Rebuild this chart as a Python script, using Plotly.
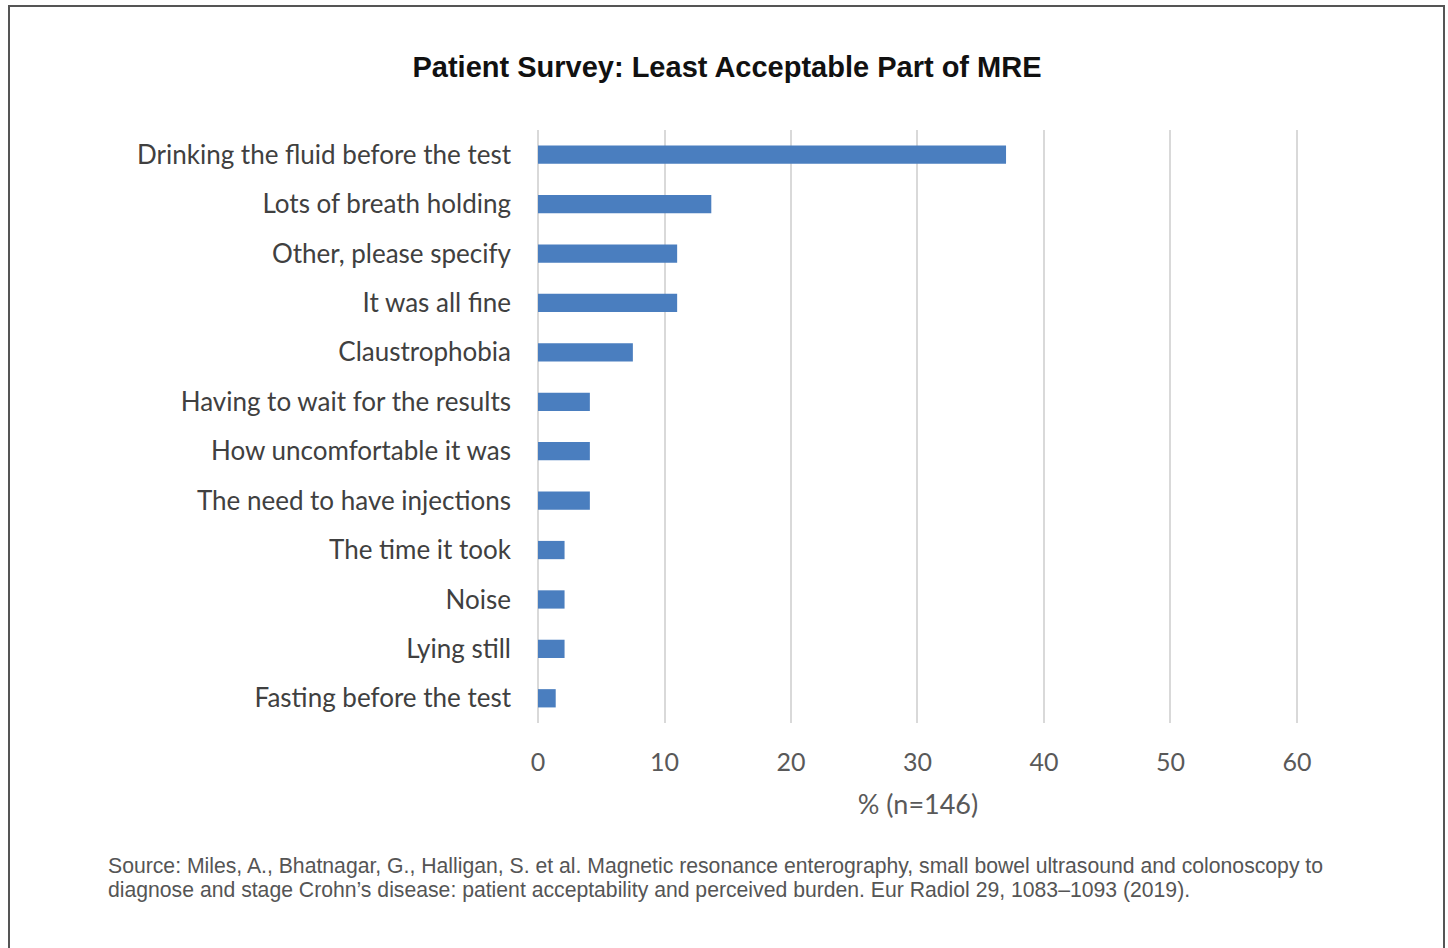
import plotly.graph_objects as go

categories = [
    "Drinking the fluid before the test",
    "Lots of breath holding",
    "Other, please specify",
    "It was all fine",
    "Claustrophobia",
    "Having to wait for the results",
    "How uncomfortable it was",
    "The need to have injections",
    "The time it took",
    "Noise",
    "Lying still",
    "Fasting before the test",
]
values = [37.0, 13.7, 11.0, 11.0, 7.5, 4.1, 4.1, 4.1, 2.1, 2.1, 2.1, 1.4]
x_ticks = [0, 10, 20, 30, 40, 50, 60]
source_lines = [
    "Source: Miles, A., Bhatnagar, G., Halligan, S. et al. Magnetic resonance enterography, small bowel ultrasound and colonoscopy to",
    "diagnose and stage Crohn’s disease: patient acceptability and perceived burden. Eur Radiol 29, 1083–1093 (2019).",
]

W, H = 1448, 948
L, R, T, B = 538, 1298, 130, 723

fig = go.Figure(go.Bar(
    x=values, y=categories, orientation="h",
    marker=dict(color="#4A7EBF", line=dict(width=0)),
    width=0.37,
))

def px2x(px):
    return (px - L) / (R - L)

def py2y(py):
    return (B - py) / (B - T)

annotations = []
for i, line in enumerate(source_lines):
    annotations.append(dict(
        text=line, xref="paper", yref="paper", x=px2x(106), y=py2y(866 + 24 * i),
        xanchor="left", yanchor="middle", align="left", showarrow=False,
        font=dict(family="Liberation Sans, Arial", size=21.2, color="#555555"),
    ))

fig.update_layout(
    width=W, height=H,
    margin=dict(l=L, r=W - R, t=T, b=H - B),
    paper_bgcolor="white", plot_bgcolor="white",
    showlegend=False,
    title=dict(
        text="<b>Patient Survey: Least Acceptable Part of MRE</b>",
        x=727 / W, xanchor="center", y=1 - 67 / H, yanchor="middle",
        font=dict(family="Liberation Sans, Arial", size=29, color="#111111"),
    ),
    xaxis=dict(
        range=[0, 60.08], tickvals=x_ticks, showgrid=True,
        gridcolor="#D9D9D9", gridwidth=2, zeroline=True, zerolinecolor="#D9D9D9",
        zerolinewidth=2, showline=False, ticks="",
        tickfont=dict(family="Lato, Open Sans", size=25, color="#595959"),
        ticklabelstandoff=22,
        title=dict(text="% (n=146)", standoff=20,
                   font=dict(family="Lato, Open Sans", size=27, color="#595959")),
        fixedrange=True,
    ),
    yaxis=dict(
        autorange="reversed", showgrid=False, showline=False, ticks="",
        tickfont=dict(family="Lato, Open Sans", size=26, color="#404040"),
        ticklabelstandoff=26, fixedrange=True,
    ),
    shapes=[
        dict(type="line", xref="paper", yref="paper",
             x0=px2x(9), x1=px2x(9), y0=py2y(5), y1=py2y(960),
             line=dict(color="#555555", width=2)),
        dict(type="line", xref="paper", yref="paper",
             x0=px2x(1444), x1=px2x(1444), y0=py2y(5), y1=py2y(960),
             line=dict(color="#555555", width=2)),
        dict(type="line", xref="paper", yref="paper",
             x0=px2x(8), x1=px2x(1445), y0=py2y(6), y1=py2y(6),
             line=dict(color="#555555", width=2)),
    ],
    annotations=annotations,
)

fig.write_html(
    "out.html",
    config={"displayModeBar": False},
    post_script="document.body.style.margin='0';document.body.style.overflow='hidden';",
)
